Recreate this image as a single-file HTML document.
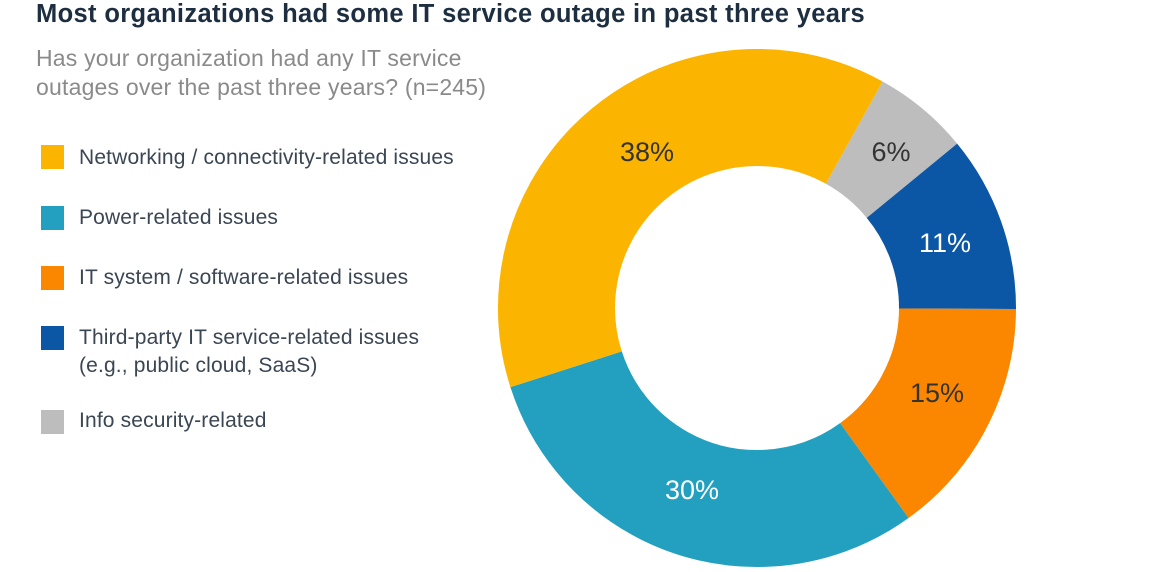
<!DOCTYPE html>
<html><head><style>
body{margin:0;width:1155px;height:572px;background:#fff;font-family:"Liberation Sans",sans-serif;position:relative;overflow:hidden}
.t{position:absolute;left:36px;top:0px;font-size:25.5px;font-weight:bold;color:#1c2e40;white-space:nowrap;letter-spacing:0.35px}
.s{position:absolute;left:36px;top:44px;font-size:23px;line-height:29px;color:#8a8a8a;white-space:nowrap;letter-spacing:0.2px}
.l{position:absolute;left:79px;font-size:21px;line-height:28px;color:#3a4654;white-space:nowrap;letter-spacing:0.15px}
.sq{position:absolute;left:41px;width:23px;height:24px}
</style></head><body>
<div class="t">Most organizations had some IT service outage in past three years</div>
<div class="s">Has your organization had any IT service<br>outages over the past three years? (n=245)</div>
<div class="sq" style="top:145px;background:#fbb400"></div><div class="l" style="top:144px">Networking / connectivity-related issues</div>
<div class="sq" style="top:206px;background:#23a0bf"></div><div class="l" style="top:204px">Power-related issues</div>
<div class="sq" style="top:266px;background:#fb8600"></div><div class="l" style="top:264px">IT system / software-related issues</div>
<div class="sq" style="top:326px;background:#0c56a6"></div><div class="l" style="top:324px">Third-party IT service-related issues<br>(e.g., public cloud, SaaS)</div>
<div class="sq" style="top:410px;background:#bdbdbd"></div><div class="l" style="top:407px">Info security-related</div>
<svg width="1155" height="572" style="position:absolute;left:0;top:0">
<g transform="rotate(-61 757 308)" fill="none" stroke-width="117">
<circle cx="757" cy="308" r="200.5" pathLength="100" stroke="#bdbdbd" stroke-dasharray="6 94" stroke-dashoffset="0"/>
<circle cx="757" cy="308" r="200.5" pathLength="100" stroke="#0c56a6" stroke-dasharray="11 89" stroke-dashoffset="-6"/>
<circle cx="757" cy="308" r="200.5" pathLength="100" stroke="#fb8600" stroke-dasharray="15 85" stroke-dashoffset="-17"/>
<circle cx="757" cy="308" r="200.5" pathLength="100" stroke="#23a0bf" stroke-dasharray="30 70" stroke-dashoffset="-32"/>
<circle cx="757" cy="308" r="200.5" pathLength="100" stroke="#fbb400" stroke-dasharray="38 62" stroke-dashoffset="-62"/>
</g>
<g font-family="Liberation Sans,sans-serif" font-size="27" text-anchor="middle">
<text x="647" y="161" fill="#333">38%</text>
<text x="891" y="161" fill="#333">6%</text>
<text x="945" y="252" fill="#fff">11%</text>
<text x="937" y="402" fill="#333">15%</text>
<text x="692" y="499" fill="#fff">30%</text>
</g>
</svg>
</body></html>
